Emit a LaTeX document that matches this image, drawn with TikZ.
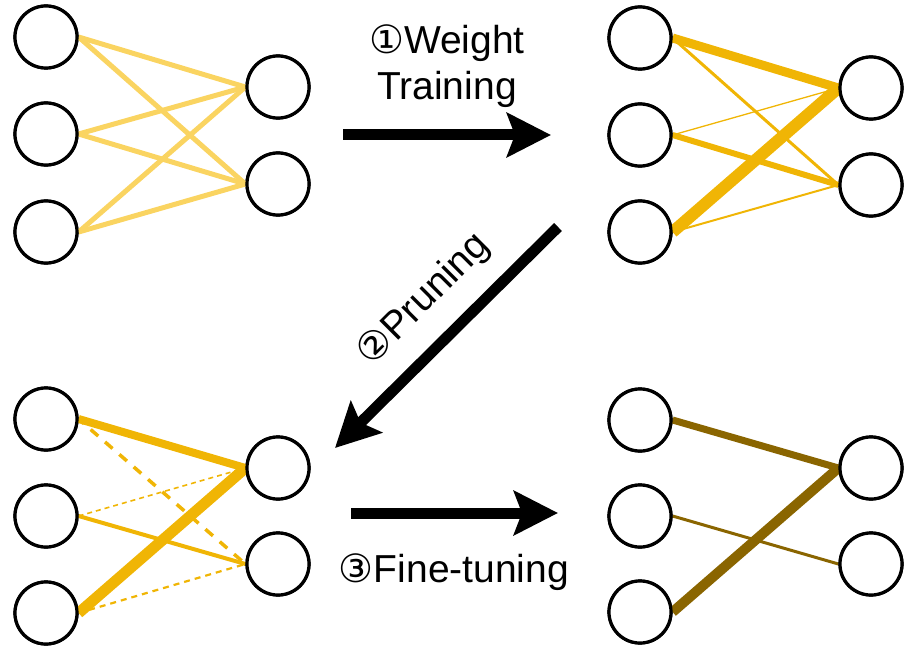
\documentclass[tikz,border=0pt]{standalone}
\usepackage{fontspec}
\setmainfont{Liberation Sans}
\newfontfamily\symfont{DejaVu Sans}
\usetikzlibrary{arrows.meta}
\definecolor{lightgold}{HTML}{FAD461}
\definecolor{gold}{HTML}{F0B505}
\definecolor{darkgold}{HTML}{8A6500}
\tikzset{
  neuron/.style={circle, draw=black, line width=3.2pt, fill=white, inner sep=0pt, minimum size=62pt},
  weight/.style={line cap=butt},
  bigarrow/.style={line width=11pt, -{Stealth[length=44pt, width=44pt, inset=8pt]}},
  steplabel/.style={font=\fontsize{39pt}{46pt}\selectfont, inner sep=0pt, align=center},
}
\newcommand{\circnum}[1]{{\symfont #1}}
\begin{document}
\begin{tikzpicture}[x=1pt, y=-1pt]
\useasboundingbox (0,0) rectangle (905,650);

% ---- initial network (uniform weights)
\node[neuron] (a1) at (46,37) {};
\node[neuron] (a2) at (46,134) {};
\node[neuron] (a3) at (46,232) {};
\node[neuron] (b1) at (278,87) {};
\node[neuron] (b2) at (278,184) {};
\foreach \i in {1,2,3} \foreach \j in {1,2}
  \draw[weight, lightgold, line width=5pt] (a\i.east) -- (b\j.west);
% redraw the neurons so the weights end on their rims
\foreach \p in {(46,37),(46,134),(46,232),(278,87),(278,184)}
  \node[neuron] at \p {};

% ---- trained network
\node[neuron] (c1) at (640,38) {};
\node[neuron] (c2) at (640,135) {};
\node[neuron] (c3) at (640,232) {};
\node[neuron] (d1) at (871,88) {};
\node[neuron] (d2) at (871,185) {};
\draw[weight, gold, line width=9pt]   (c1.east) -- (d1.west);
\draw[weight, gold, line width=3pt]   (c1.east) -- (d2.west);
\draw[weight, gold, line width=1.3pt] (c2.east) -- (d1.west);
\draw[weight, gold, line width=6pt]   (c2.east) -- (d2.west);
\draw[weight, gold, line width=12pt]  (c3.east) -- (d1.west);
\draw[weight, gold, line width=2pt]   (c3.east) -- (d2.west);
\foreach \p in {(640,38),(640,135),(640,232),(871,88),(871,185)}
  \node[neuron] at \p {};

% ---- pruned network
\node[neuron] (e1) at (46,419) {};
\node[neuron] (e2) at (46,516) {};
\node[neuron] (e3) at (46,613) {};
\node[neuron] (f1) at (278,468) {};
\node[neuron] (f2) at (278,564) {};
\draw[weight, gold, line width=8pt]  (e1.east) -- (f1.west);
\draw[weight, gold, line width=3.5pt, dash pattern=on 10pt off 9pt, dash phase=-16pt] (e1.east) -- (f2.west);
\draw[weight, gold, line width=1.6pt, dash pattern=on 5pt off 4pt] (e2.east) -- (f1.west);
\draw[weight, gold, line width=4pt]  (e2.east) -- (f2.west);
\draw[weight, gold, line width=11pt] (e3.east) -- (f1.west);
\draw[weight, gold, line width=2.2pt, dash pattern=on 6pt off 5pt] (e3.east) -- (f2.west);
\foreach \p in {(46,419),(46,516),(46,613),(278,468),(278,564)}
  \node[neuron] at \p {};

% ---- fine-tuned network
\node[neuron] (g1) at (640,420) {};
\node[neuron] (g2) at (640,516) {};
\node[neuron] (g3) at (640,612) {};
\node[neuron] (h1) at (871,468) {};
\node[neuron] (h2) at (871,564) {};
\draw[weight, darkgold, line width=7pt]  (g1.east) -- (h1.west);
\draw[weight, darkgold, line width=3pt]  (g2.east) -- (h2.west);
\draw[weight, darkgold, line width=10pt] (g3.east) -- (h1.west);
\foreach \p in {(640,420),(640,516),(640,612),(871,468),(871,564)}
  \node[neuron] at \p {};

% ---- process arrows
\coordinate (s1) at (343,135); \coordinate (t1) at (551,135);
\coordinate (s2) at (558,227); \coordinate (t2) at (335,448);
\coordinate (s3) at (351,513); \coordinate (t3) at (558,513);
\draw[bigarrow] (s1) -- (t1);
\draw[bigarrow] (s2) -- (t2);
\draw[bigarrow] (s3) -- (t3);

% ---- step labels
\node[steplabel] (l1) at (447,66) {\circnum{①}Weight\\Training};
\node[steplabel, rotate=45] (l2) at (424,300) {\circnum{②}Pruning};
\node[steplabel] (l3) at (454,572) {\circnum{③}Fine-tuning};
\end{tikzpicture}
\end{document}
